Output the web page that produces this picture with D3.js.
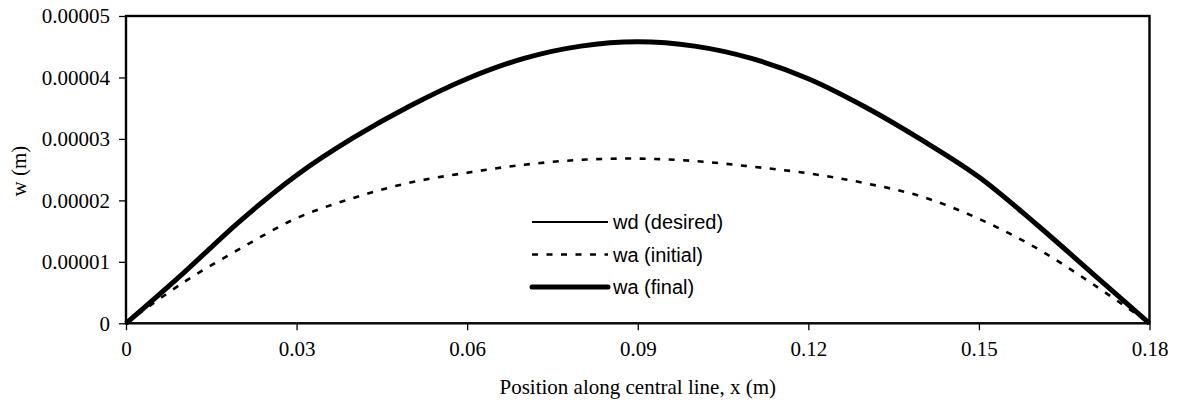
<!DOCTYPE html>
<html>
<head>
<meta charset="utf-8">
<script src="https://cdn.jsdelivr.net/npm/d3@7"></script>
<style>
  body { margin: 0; background: #fff; }
  svg { display: block; }
</style>
</head>
<body>
<script>
// positions along the central line (m)
var xs = [0, 0.01, 0.02, 0.03, 0.04, 0.05, 0.06, 0.07, 0.08, 0.09,
          0.10, 0.11, 0.12, 0.13, 0.14, 0.15, 0.16, 0.17, 0.18]

// wd (desired) - sits under the final curve
var wDesired = [0, 8.1e-6, 1.66e-5, 2.41e-5, 3.02e-5, 3.54e-5, 3.98e-5, 4.31e-5, 4.51e-5, 4.58e-5,
                4.51e-5, 4.31e-5, 3.98e-5, 3.52e-5, 2.98e-5, 2.38e-5, 1.62e-5, 8.1e-6, 0]
// wa (initial)
var wInitial = [0, 6.6e-6, 1.21e-5, 1.71e-5, 2.04e-5, 2.29e-5, 2.45e-5, 2.58e-5, 2.66e-5, 2.68e-5,
                2.64e-5, 2.55e-5, 2.44e-5, 2.28e-5, 2.06e-5, 1.70e-5, 1.23e-5, 6.4e-6, 0]
// wa (final)
var wFinal = [0, 8.1e-6, 1.66e-5, 2.41e-5, 3.02e-5, 3.54e-5, 3.98e-5, 4.31e-5, 4.51e-5, 4.58e-5,
              4.51e-5, 4.31e-5, 3.98e-5, 3.52e-5, 2.98e-5, 2.38e-5, 1.62e-5, 8.1e-6, 0]

var xTicks = [0, 0.03, 0.06, 0.09, 0.12, 0.15, 0.18]
var yTicks = [0, 0.00001, 0.00002, 0.00003, 0.00004, 0.00005]

var seriesNames = ['wd (desired)', 'wa (initial)', 'wa (final)']

var W = 1180, H = 407
var plotL = 126, plotR = 1149.5, plotT = 16, plotB = 323.3

var svg = d3.select('body')
  .append('svg')
  .attr('width', W)
  .attr('height', H)

var x = d3.scaleLinear().domain([0, 0.18]).range([plotL, plotR])
var y = d3.scaleLinear().domain([0, 0.00005]).range([plotB, plotT])

var serif = '"Liberation Serif", "Times New Roman", serif'
var sans = '"Liberation Sans", Arial, sans-serif'

// axes
var xAxis = svg.append('g')
  .attr('transform', 'translate(0,' + plotB + ')')
  .call(d3.axisBottom(x)
    .tickValues(xTicks)
    .tickSize(7)
    .tickPadding(11)
    .tickFormat(function(d) { return d === 0 ? '0' : d.toFixed(2) }))
xAxis.select('.domain').remove()

var yAxis = svg.append('g')
  .attr('transform', 'translate(' + plotL + ',0)')
  .call(d3.axisLeft(y)
    .tickValues(yTicks)
    .tickSize(7)
    .tickPadding(9)
    .tickFormat(function(d) { return d === 0 ? '0' : d.toFixed(5) }))
yAxis.select('.domain').remove()

svg.selectAll('.tick line').style('stroke', '#000').style('stroke-width', '1.3px')
svg.selectAll('.tick text')
  .style('font-family', serif)
  .style('font-size', '21px')
  .style('fill', '#000')

// plot frame
svg.append('rect')
  .attr('x', plotL)
  .attr('y', plotT)
  .attr('width', plotR - plotL)
  .attr('height', plotB - plotT)
  .style('fill', 'none')
  .style('stroke', '#000')
  .style('stroke-width', '2.4px')

// lines
var styles = [
  { data: wDesired, width: 2, dash: null },
  { data: wInitial, width: 2.6, dash: '6,8.5' },
  { data: wFinal, width: 5, dash: null }
]

var line = d3.line()
  .x(function(d) { return x(d[0]) })
  .y(function(d) { return y(d[1]) })
  .curve(d3.curveCatmullRom.alpha(0.5))

styles.forEach(function(s) {
  svg.append('path')
    .datum(xs.map(function(v, i) { return [v, s.data[i]] }))
    .attr('d', line)
    .style('fill', 'none')
    .style('stroke', '#000')
    .style('stroke-width', s.width + 'px')
    .style('stroke-dasharray', s.dash)
    .style('stroke-linejoin', 'round')
})

// legend
var legend = svg.append('g')
  .attr('transform', 'translate(532,222)')

seriesNames.forEach(function(name, i) {
  var row = legend.append('g').attr('transform', 'translate(0,' + (i * 32.5) + ')')
  row.append('line')
    .attr('x1', 0).attr('x2', 76)
    .attr('y1', 0).attr('y2', 0)
    .style('stroke', '#000')
    .style('stroke-width', styles[i].width + 'px')
    .style('stroke-dasharray', styles[i].dash)
    .style('stroke-linecap', i === 2 ? 'round' : 'butt')
  row.append('text')
    .attr('x', 81)
    .attr('y', 7)
    .style('font-family', sans)
    .style('font-size', '20px')
    .text(name)
})

// axis titles
svg.append('text')
  .attr('x', (plotL + plotR) / 2)
  .attr('y', 394)
  .attr('text-anchor', 'middle')
  .style('font-family', serif)
  .style('font-size', '21px')
  .text('Position along central line, x (m)')

svg.append('text')
  .attr('transform', 'translate(26,171) rotate(-90)')
  .attr('text-anchor', 'middle')
  .style('font-family', serif)
  .style('font-size', '21px')
  .text('w (m)')
</script>
</body>
</html>
